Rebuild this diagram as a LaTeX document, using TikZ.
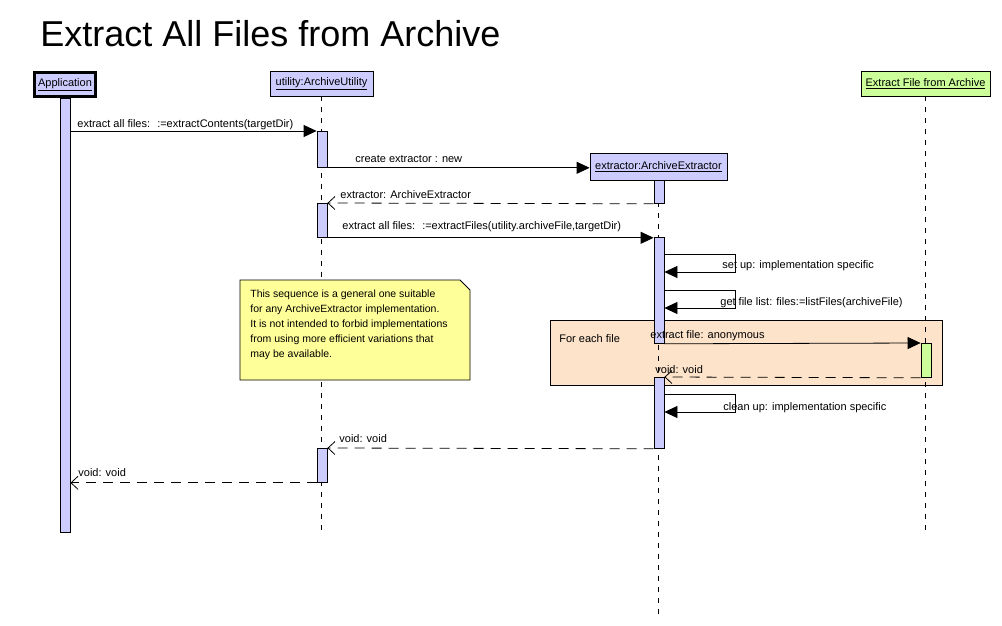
\documentclass[tikz,border=0pt]{standalone}
\usepackage{fontspec}
\setmainfont{Liberation Sans}
\usetikzlibrary{arrows.meta, positioning, calc}
\definecolor{objblue}{RGB}{204,204,255}
\definecolor{objgreen}{RGB}{204,255,153}
\definecolor{loopfill}{RGB}{252,227,202}
\definecolor{notefill}{RGB}{255,255,153}

\begin{document}
\begin{tikzpicture}[x=1pt, y=-1pt, line width=0.8pt, font=\fontsize{11}{13}\selectfont,
    obj/.style={draw, fill=objblue, inner sep=0pt, minimum height=25pt},
    act/.style={draw, fill=objblue, inner sep=0pt, minimum width=10pt, anchor=north},
    life/.style={dash pattern=on 5pt off 6pt},
    msg/.style={-{Triangle[length=13pt,width=12pt]}},
    ret/.style={dash pattern=on 10pt off 7pt, -{Straight Barb[length=7pt,width=13pt]}},
    lbl/.style={anchor=base west, inner sep=0pt}]
  \useasboundingbox (0,0) rectangle (1002,626);

  % Title
  \node[lbl] (title) at (40,47) {\fontsize{36}{40}\selectfont Extract All Files from Archive};

  % Loop fragment (behind everything)
  \node[draw, fill=loopfill, inner sep=0pt, minimum width=392pt, minimum height=65pt, anchor=north west] (loop) at (550,320) {};
  \node[lbl] (looplbl) at (559,342) {For each file};

  % Objects
  \node[obj, line width=3pt, minimum width=61pt, minimum height=24pt] (app) at (65,84.5) {\underline{Application}};
  \node[obj, minimum width=103pt] (util) at (321.5,83.5) {\underline{utility:ArchiveUtility}};
  \node[obj, minimum width=137pt, minimum height=27pt] (extr) at (658.5,166.5) {\underline{extractor:ArchiveExtractor}};
  \node[obj, fill=objgreen, minimum width=129pt] (file) at (925.5,83.5) {\underline{Extract File from Archive}};

  % Lifelines
  \draw[life] (util.south) -- (util.south |- 0,532);
  \draw[life] (extr.south) -- (extr.south |- 0,615);
  \draw[life] (file.south) -- (file.south |- 0,532);

  % Note
  \draw[fill=notefill] (240,280) -- (460,280) -- (470,290) -- (470,380) -- (240,380) -- cycle;
  \node[anchor=north west, align=left, inner sep=0pt, font=\fontsize{10.5}{15}\selectfont] (note) at (250,289)
    {This sequence is a general one suitable\\
     for any ArchiveExtractor implementation.\\
     It is not intended to forbid implementations\\
     from using more efficient variations that\\
     may be available.};

  % Activations
  \node[act, minimum height=434pt] (appbar) at (65,98) {};
  \node[act, minimum height=36pt] (ua1) at (322,131) {};
  \node[act, minimum height=34pt] (ua2) at (322,203) {};
  \node[act, minimum height=34pt] (ua3) at (322,448) {};
  \node[act, minimum height=23pt] (ea1) at (659,180) {};
  \node[act, minimum height=106pt] (ea2) at (659,237) {};
  \node[act, minimum height=71pt] (ea3) at (659,377) {};
  \node[act, fill=objgreen, minimum height=34pt] (fa1) at (926,343) {};

  % Calls
  \draw[msg] (appbar.east |- ua1.north) -- (ua1.north west);
  \node[lbl] (m1) at (77,127) {extract all files: \ :=extractContents(targetDir)};
  \draw[msg] (ua1.south east) -- (ua1.south east -| extr.west);
  \node[lbl] (m2) at (355,162) {create extractor : new};
  \draw[ret] (ea1.south west) -- (ua2.north east);
  \node[lbl] (m3) at (340,198) {extractor: ArchiveExtractor};
  \draw[msg] (ua2.south east) -- (ua2.south east -| ea2.west);
  \node[lbl] (m4) at (342,229) {extract all files: \ :=extractFiles(utility.archiveFile,targetDir)};

  % Self calls
  \draw[msg] ($(ea2.north east)+(0,17)$) -- ++(71,0) -- ++(0,18) -- ++(-71,0);
  \node[lbl] (s1) at (722,268) {set up: implementation specific};
  \draw[msg] ($(ea2.north east)+(0,53)$) -- ++(71,0) -- ++(0,18) -- ++(-71,0);
  \node[lbl] (s2) at (720,305) {get file list: files:=listFiles(archiveFile)};

  % Loop body
  \draw[msg] (ea2.south east) -- (fa1.north west);
  \node[lbl] (m5) at (650,338) {extract file: anonymous};
  \draw[ret] (fa1.south west) -- (ea3.north east);
  \node[lbl] (m6) at (655,373) {void: void};

  \draw[msg] ($(ea3.north east)+(0,17)$) -- ++(71,0) -- ++(0,18) -- ++(-71,0);
  \node[lbl] (s3) at (723,410) {clean up: implementation specific};

  % Returns
  \draw[ret] (ea3.south west) -- (ua3.north east);
  \node[lbl] (m7) at (339,442) {void: void};
  \draw[ret] (ua3.south west) -- (appbar.east |- ua3.south);
  \node[lbl] (m8) at (78,476) {void: void};
\end{tikzpicture}
\end{document}
